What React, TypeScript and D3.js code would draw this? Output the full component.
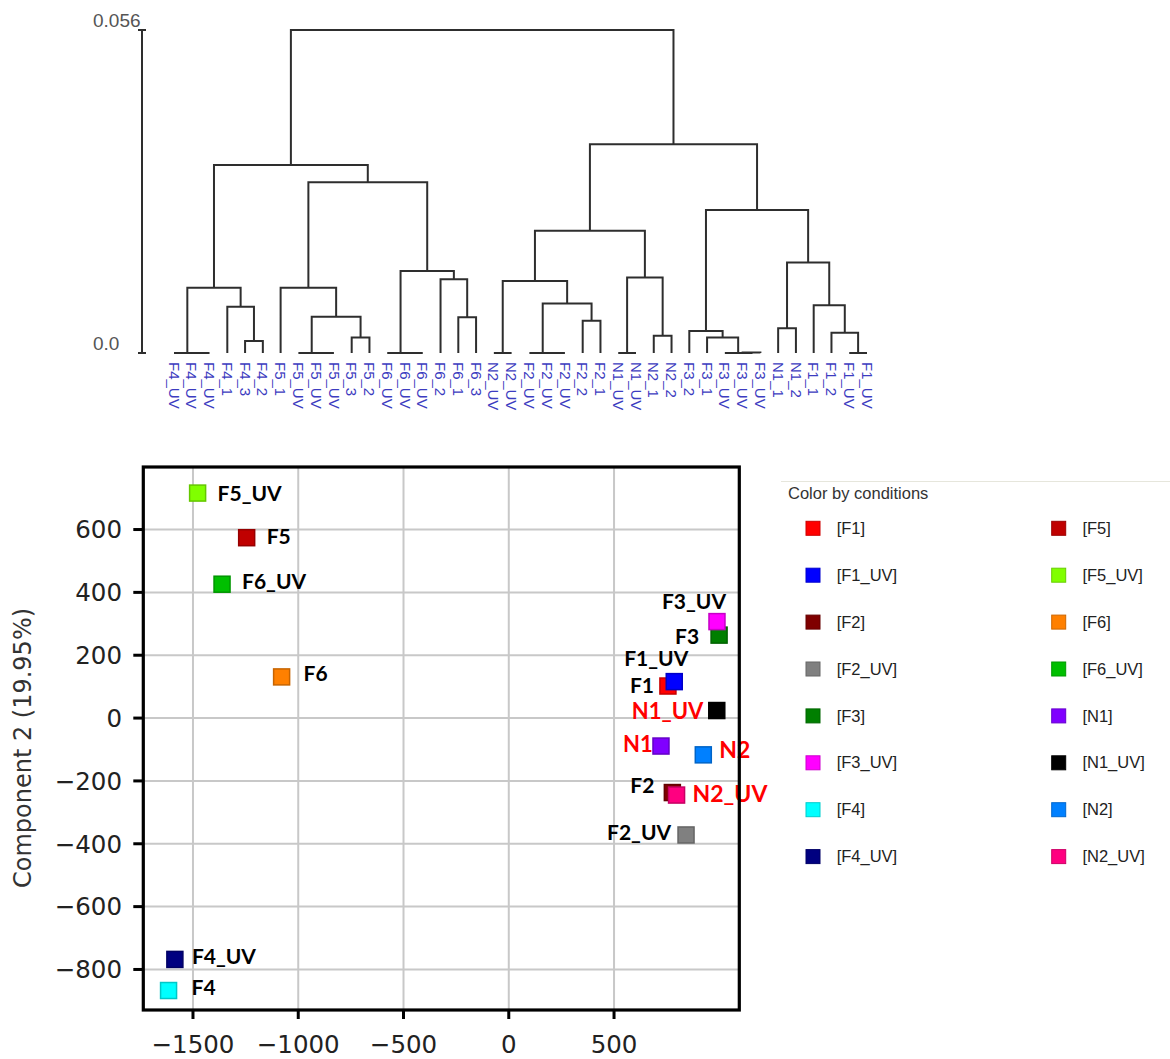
import React from 'react';
import * as d3 from 'd3';

// ---------------- Dendrogram data ----------------
const leafLabels = [
  'F4_UV', 'F4_UV', 'F4_UV', 'F4_1', 'F4_3', 'F4_2',
  'F5_1', 'F5_UV', 'F5_UV', 'F5_UV', 'F5_3', 'F5_2',
  'F6_UV', 'F6_UV', 'F6_UV', 'F6_2', 'F6_1', 'F6_3',
  'N2_UV', 'N2_UV', 'F2_UV', 'F2_UV', 'F2_UV', 'F2_2', 'F2_1',
  'N1_UV', 'N1_UV', 'N2_1', 'N2_2',
  'F3_2', 'F3_1', 'F3_UV', 'F3_UV', 'F3_UV',
  'N1_1', 'N1_2', 'F1_1', 'F1_2', 'F1_UV', 'F1_UV',
];

// [height, left, right] or a leaf index
type TreeNode = number | [number, TreeNode, TreeNode];
const dendroTree: TreeNode = [0.056,
  [0.0326,
    [0.0113, [0, 0, [0, 1, 2]], [0.0080, 3, [0.0021, 4, 5]]],
    [0.0296,
      [0.0113, 6, [0.0063, [0, 7, [0, 8, 9]], [0.0027, 10, 11]]],
      [0.0142, [0, 12, [0, 13, 14]], [0.0128, 15, [0.0062, 16, 17]]],
    ],
  ],
  [0.0362,
    [0.0212,
      [0.0125, [0, 18, 19], [0.0086, [0, 20, [0, 21, 22]], [0.0056, 23, 24]]],
      [0.0131, [0, 25, 26], [0.0030, 27, 28]],
    ],
    [0.0248,
      [0.0038, 29, [0.0027, 30, [0, 31, [0.0001, 32, 33]]]],
      [0.0157, [0.0043, 34, 35], [0.0083, 36, [0.0035, 37, [0, 38, 39]]]],
    ],
  ],
];
const dendroAxisTicks = [0, 0.056];
const dendroAxisLabels = ['0.0', '0.056'];

// ---------------- PCA data ----------------
const conditions = [
  'F1', 'F1_UV', 'F2', 'F2_UV', 'F3', 'F3_UV', 'F4', 'F4_UV',
  'F5', 'F5_UV', 'F6', 'F6_UV', 'N1', 'N1_UV', 'N2', 'N2_UV',
];
const conditionColors = [
  '#ff0000', '#0000ff', '#7f0000', '#808080', '#007f00', '#ff00ff', '#00ffff', '#000080',
  '#c00000', '#80ff00', '#ff8000', '#00bf00', '#8000ff', '#000000', '#0080ff', '#ff0080',
];
const pc1 = [756, 786, 777, 842, 999, 989, -1616, -1586, -1245, -1478, -1079, -1362, 723, 988, 924, 797];
const pc2 = [102, 116, -237, -372, 264, 307, -867, -768, 574, 716, 131, 426, -89, 24, -117, -245];
const xTicks = [-1500, -1000, -500, 0, 500];
const yTicks = [600, 400, 200, 0, -200, -400, -600, -800];
const yAxisTitle = 'Component 2 (19.95%)';
const legendTitle = 'Color by conditions';
const redLabels = ['N1', 'N1_UV', 'N2', 'N2_UV'];

// ---------------- layout (pixels, not data) ----------------
const labelOffset: Record<string, [number, number, number]> = {
  F1: [-38, -1, 21], F1_UV: [-50, -23, 21], F2: [-42, -7, 21], F2_UV: [-79, -3, 21],
  F3: [-44, 1, 21], F3_UV: [-55, -20, 21], F4: [23, -3, 21], F4_UV: [17, -3, 21],
  F5: [20, -1, 21], F5_UV: [20, 0, 21], F6: [22, -3, 21], F6_UV: [20, -3, 21],
  N1: [-38, -2, 22], N1_UV: [-85, 1, 22], N2: [16, -5, 23], N2_UV: [16, -1, 23],
};

const W = 1170;
const H = 1059;

export default function App() {
  // dendrogram scales
  const leafX = d3.scalePoint<number>().domain(d3.range(leafLabels.length)).range([174, 867]);
  const hY = d3.scaleLinear().domain([0, 0.056]).range([353, 30]);

  const root = d3.hierarchy<TreeNode>(dendroTree, (d) => (typeof d === 'number' ? null : [d[1], d[2]]));
  const px = new Map<any, number>();
  const py = new Map<any, number>();
  root.eachAfter((n) => {
    if (!n.children) {
      px.set(n, leafX(n.data as number) as number);
      py.set(n, hY(0));
    } else {
      px.set(n, d3.mean(n.children, (c) => px.get(c) as number) as number);
      py.set(n, hY((n.data as [number, TreeNode, TreeNode])[0]));
    }
  });
  const links: string[] = [];
  root.each((n) => {
    if (n.children) {
      const [a, b] = n.children;
      const y = py.get(n)!;
      links.push(`M${px.get(a)},${py.get(a)}V${y}H${px.get(b)}V${py.get(b)}`);
    }
  });
  const leaves = root.leaves();

  // scatter scales
  const x = d3.scaleLinear().domain([-1736, 1095]).range([143.3, 739.3]);
  const y = d3.scaleLinear().domain([-929, 799]).range([1010, 467]);
  const [bx0, bx1] = x.range();
  const [by0, by1] = [y(799), y(-929)];
  const fmt = d3.format('d');

  const sq = 16;
  const lsq = 14;

  return (
    <svg width={W} height={H} style={{ position: 'absolute', left: 0, top: 0, background: '#fff' }}>
      <rect x={0} y={0} width={W} height={H} fill="#fff" />
      {/* ---------- Dendrogram ---------- */}
      <g>
        <line x1={142} x2={142} y1={hY(0)} y2={hY(0.056)} stroke="#2e2e2e" strokeWidth={2} />
        {dendroAxisTicks.map((t) => (
          <line key={t} x1={138} x2={146} y1={hY(t)} y2={hY(t)} stroke="#2e2e2e" strokeWidth={2} />
        ))}
        {dendroAxisTicks.map((t, i) => (
          <text key={'l' + t} x={93} y={hY(t) - 3} fontFamily="Liberation Sans, Arial, sans-serif" fontSize={19} fill="#555">
            {dendroAxisLabels[i]}
          </text>
        ))}
        {links.map((d, i) => (
          <path key={i} d={d} fill="none" stroke="#2e2e2e" strokeWidth={2} />
        ))}
        {leaves.map((n, i) => (
          <text
            key={i}
            transform={`translate(${px.get(n)},${362}) rotate(90)`}
            dy="0.36em"
            fontFamily="Liberation Sans, Arial, sans-serif"
            fontSize={15}
            fill="#3c3cc0"
          >
            {leafLabels[n.data as number]}
          </text>
        ))}
      </g>

      {/* ---------- PCA scatter ---------- */}
      <g>
        {xTicks.map((t) => (
          <line key={'gx' + t} x1={x(t)} x2={x(t)} y1={by0} y2={by1} stroke="#c8c8c8" strokeWidth={2} />
        ))}
        {yTicks.map((t) => (
          <line key={'gy' + t} x1={bx0} x2={bx1} y1={y(t)} y2={y(t)} stroke="#c8c8c8" strokeWidth={2} />
        ))}
        {conditions.map((c, i) => (
          <rect
            key={c}
            x={x(pc1[i]) - sq / 2}
            y={y(pc2[i]) - sq / 2}
            width={sq}
            height={sq}
            fill={conditionColors[i]}
            stroke={d3.rgb(conditionColors[i]).darker(0.7).formatHex()}
            strokeWidth={1.5}
          />
        ))}
        {conditions.map((c, i) => {
          const [dx, dy, fs] = labelOffset[c];
          return (
            <text
              key={'t' + c}
              x={x(pc1[i]) + dx}
              y={y(pc2[i]) + dy}
              dy="0.36em"
              fontFamily="Lato, 'Open Sans', sans-serif"
              fontWeight={700}
              fontSize={fs}
              fill={redLabels.includes(c) ? '#ff0000' : '#000'}
            >
              {c}
            </text>
          );
        })}
        <rect x={bx0} y={by0} width={bx1 - bx0} height={by1 - by0} fill="none" stroke="#000" strokeWidth={3.2} />
        {xTicks.map((t) => (
          <g key={'xt' + t}>
            <line x1={x(t)} x2={x(t)} y1={by1} y2={by1 + 9} stroke="#000" strokeWidth={3} />
            <text x={x(t)} y={1053} textAnchor="middle" fontFamily="DejaVu Sans, sans-serif" fontSize={24.5} fill="#222">
              {fmt(t)}
            </text>
          </g>
        ))}
        {yTicks.map((t) => (
          <g key={'yt' + t}>
            <line x1={bx0 - 10} x2={bx0} y1={y(t)} y2={y(t)} stroke="#000" strokeWidth={3} />
            <text x={122} y={y(t)} dy="0.36em" textAnchor="end" fontFamily="DejaVu Sans, sans-serif" fontSize={24.5} fill="#222">
              {fmt(t)}
            </text>
          </g>
        ))}
        <text
          transform={`translate(31,748) rotate(-90)`}
          textAnchor="middle"
          fontFamily="DejaVu Sans, sans-serif"
          fontSize={24}
          fill="#333"
        >
          {yAxisTitle}
        </text>
      </g>

      {/* ---------- Legend ---------- */}
      <g fontFamily="Liberation Sans, Arial, sans-serif" fontSize={16.5} fill="#222">
        <line x1={781} x2={1170} y1={481.5} y2={481.5} stroke="#e6e6dc" strokeWidth={1.2} />
        <text x={788} y={498.5} fill="#333">{legendTitle}</text>
        {conditions.map((c, i) => {
          const col = Math.floor(i / 8);
          const row = i % 8;
          const cx = col === 0 ? 806 : 1051.7;
          const cy = 528.3 + row * 46.9;
          return (
            <g key={'lg' + c}>
              <rect
                x={cx}
                y={cy - lsq / 2}
                width={lsq}
                height={lsq}
                fill={conditionColors[i]}
                stroke={d3.rgb(conditionColors[i]).darker(0.6).formatHex()}
                strokeWidth={1}
              />
              <text x={cx + 30.7} y={cy} dy="0.34em">{`[${c}]`}</text>
            </g>
          );
        })}
      </g>
    </svg>
  );
}
